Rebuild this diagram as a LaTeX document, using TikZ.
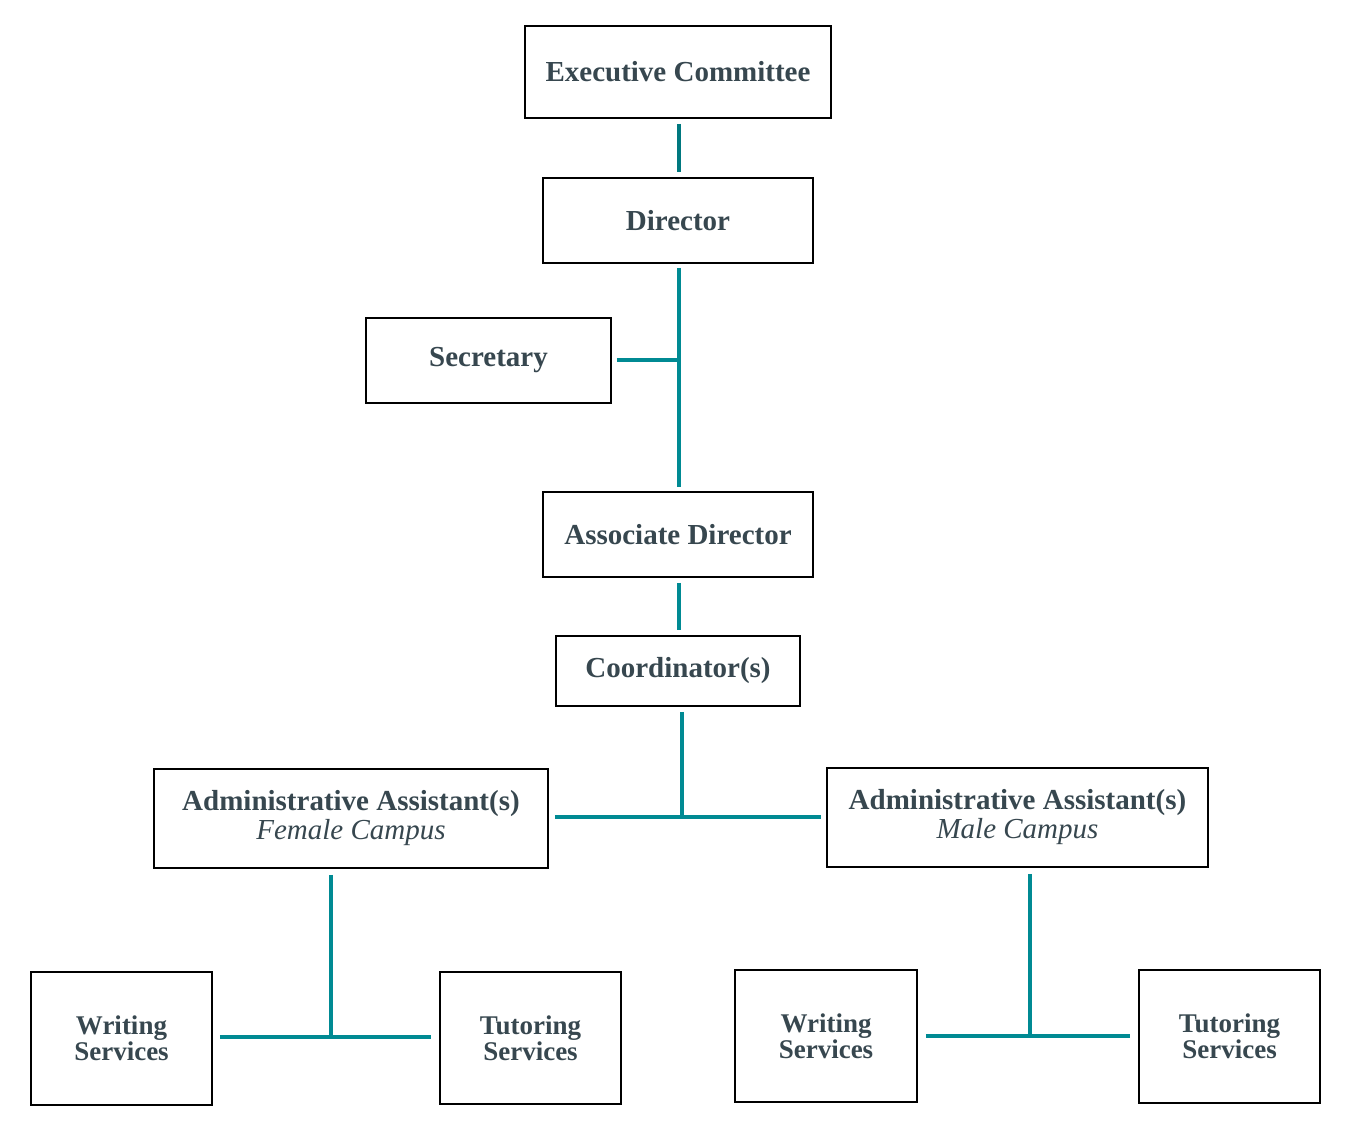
\documentclass[tikz,border=0pt]{standalone}
\usepackage{fontspec}
\setmainfont{Liberation Serif}
\definecolor{txt}{HTML}{37474F}
\definecolor{teal1}{HTML}{008A93}
\definecolor{teal0}{HTML}{00787F}
\tikzset{
  box/.style={draw=black, line width=1.6pt, inner sep=0pt, text=txt, font=\fontsize{29}{30}\selectfont\bfseries, align=center},
  small/.style={font=\fontsize{27}{28}\selectfont\bfseries},
  conn/.style={draw=teal1, line width=4pt},
}
\begin{document}
\begin{tikzpicture}[x=1pt,y=-1pt]
\useasboundingbox (0,0) rectangle (1355,1143);
\node[box, minimum width=306pt, minimum height=92pt] (exec) at (678,72) {Executive Committee};
\node[box, minimum width=270pt, minimum height=85pt] (dir) at (678,220.5) {Director};
\node[box, minimum width=245pt, minimum height=85pt] (sec) at (488.5,360.5) {Secretary};
\node[box, minimum width=270pt, minimum height=85pt] (assoc) at (678,534.5) {Associate Director};
\node[box, minimum width=244pt, minimum height=70pt] (coord) at (678,671) {Coordinator(s)};
\node[box, minimum width=394pt, minimum height=99pt] (admF) at (351,818.5) {Administrative Assistant(s)\\[-1pt]{\mdseries\itshape Female Campus}};
\node[box, minimum width=381pt, minimum height=99pt] (admM) at (1017.5,817.5) {Administrative Assistant(s)\\[-1pt]{\mdseries\itshape Male Campus}};
\node[box, small, minimum width=181pt, minimum height=133pt] (wL) at (121.5,1038.5) {Writing\\[-2pt]Services};
\node[box, small, minimum width=181pt, minimum height=132pt] (tL) at (530.5,1038) {Tutoring\\[-2pt]Services};
\node[box, small, minimum width=182pt, minimum height=132pt] (wR) at (826,1036) {Writing\\[-2pt]Services};
\node[box, small, minimum width=181pt, minimum height=133pt] (tR) at (1229.5,1036.5) {Tutoring\\[-2pt]Services};
\coordinate (jsec) at (679,360);
\coordinate (jc) at (682,817);
\coordinate (jF) at (331,1037);
\coordinate (jM) at (1030,1036);
\draw[conn, draw=teal0, shorten <=5pt, shorten >=5pt] ([xshift=1pt]exec.south) -- ([xshift=1pt]dir.north);
\draw[conn, shorten <=4pt, shorten >=4pt] ([xshift=1pt]dir.south) -- ([xshift=1pt]assoc.north);
\draw[conn, shorten <=5pt] (sec.east |- jsec) -- ([xshift=2pt]jsec);
\draw[conn, shorten <=5pt, shorten >=5pt] ([xshift=1pt]assoc.south) -- ([xshift=1pt]coord.north);
\draw[conn, shorten <=5pt] (jc |- coord.south) -- (jc);
\draw[conn, shorten <=6pt, shorten >=5pt] (admF.east |- jc) -- (admM.west |- jc);
\draw[conn, shorten <=6pt] (jF |- admF.south) -- (jF);
\draw[conn, shorten <=7pt, shorten >=8pt] (wL.east |- jF) -- (tL.west |- jF);
\draw[conn, shorten <=6pt] (jM |- admM.south) -- (jM);
\draw[conn, shorten <=8pt, shorten >=8pt] (wR.east |- jM) -- (tR.west |- jM);
\end{tikzpicture}
\end{document}
